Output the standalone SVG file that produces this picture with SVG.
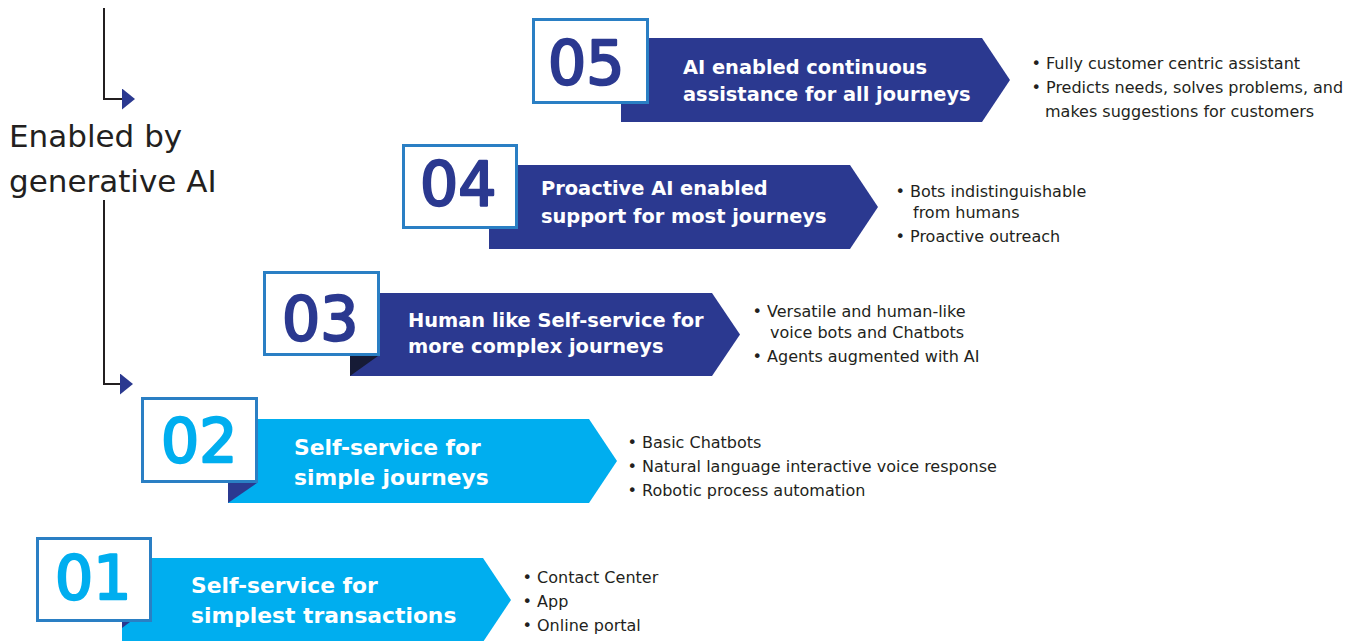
<svg xmlns="http://www.w3.org/2000/svg" width="1365" height="641" viewBox="0 0 1365 641">
  <style>
    .box { fill: #ffffff; stroke: #2a7fc4; stroke-width: 3; }
    .navy { fill: #2b3990; }
    .sky { fill: #00aeef; }
    .num { font-family: "DejaVu Sans", "Liberation Sans", sans-serif; font-size: 60px; stroke-width: 2.4; stroke-linejoin: round; }
    .num-navy { fill: #2b3990; stroke: #2b3990; }
    .num-sky { fill: #00aeef; stroke: #00aeef; }
    .title { font-family: "DejaVu Sans", "Liberation Sans", sans-serif; font-weight: bold; fill: #ffffff; }
    .t-dark { font-size: 19.4px; }
    .t-light { font-size: 21.8px; }
    .bullet { font-family: "DejaVu Sans", "Liberation Sans", sans-serif; font-size: 16px; fill: #231f20; }
    .side { font-family: "DejaVu Sans", "Liberation Sans", sans-serif; font-size: 31px; fill: #231f20; }
    .link { fill: none; stroke: #231f20; stroke-width: 2; }
  </style>
  <defs>
    <marker id="arrow" markerUnits="userSpaceOnUse" markerWidth="14" markerHeight="22" refX="0" refY="10.5" orient="auto">
      <path d="M0,0 L13,10.5 L0,21 Z" fill="#2b3990"/>
    </marker>
  </defs>

  <rect width="1365" height="641" fill="#ffffff"/>

  <!-- side label -->
  <g id="label-genai">
    <text class="side" x="9" y="147">Enabled by</text>
    <text class="side" x="9" y="192">generative AI</text>
  </g>

  <!-- elbow connectors -->
  <g id="connectors">
    <path class="link" d="M104,8 V99 H122" marker-end="url(#arrow)"/>
    <path class="link" d="M104,200 V384 H120" marker-end="url(#arrow)"/>
  </g>

  <!-- level 05 -->
  <g id="level-05">
    <polygon class="navy" points="621,38 982,38 1010,80 982,122 621,122"/>
    <rect class="box" x="533.5" y="19.5" width="114" height="83"/>
    <text class="num num-navy" x="548" y="84">05</text>
    <text class="title t-dark" x="683" y="74">AI enabled continuous</text>
    <text class="title t-dark" x="683" y="101">assistance for all journeys</text>
    <text class="bullet" x="1031.5" y="69">• Fully customer centric assistant</text>
    <text class="bullet" x="1031.5" y="93">• Predicts needs, solves problems, and</text>
    <text class="bullet" x="1045" y="117">makes suggestions for customers</text>
  </g>

  <!-- level 04 -->
  <g id="level-04">
    <polygon class="navy" points="489,165 850,165 878,207 850,249 489,249"/>
    <rect class="box" x="403.5" y="145.5" width="113" height="82"/>
    <text class="num num-navy" x="420" y="205">04</text>
    <text class="title t-dark" x="541" y="195">Proactive AI enabled</text>
    <text class="title t-dark" x="541" y="223">support for most journeys</text>
    <text class="bullet" x="895.5" y="197">• Bots indistinguishable</text>
    <text class="bullet" x="913" y="218">from humans</text>
    <text class="bullet" x="895.5" y="242">• Proactive outreach</text>
  </g>

  <!-- level 03 -->
  <g id="level-03">
    <polygon class="navy" points="350,293 712,293 740,334.5 712,376 350,376"/>
    <polygon points="350,356 378,356 350,376" fill="#161b36"/>
    <rect class="box" x="264.5" y="272.5" width="114" height="82"/>
    <text class="num num-navy" x="282" y="340">03</text>
    <text class="title t-dark" x="408" y="327">Human like Self-service for</text>
    <text class="title t-dark" x="408" y="353">more complex journeys</text>
    <text class="bullet" x="752.5" y="317">• Versatile and human-like</text>
    <text class="bullet" x="770" y="338">voice bots and Chatbots</text>
    <text class="bullet" x="752.5" y="362">• Agents augmented with AI</text>
  </g>

  <!-- level 02 -->
  <g id="level-02">
    <polygon class="sky" points="228,419 589,419 617,461 589,503 228,503"/>
    <polygon class="navy" points="228,483 257,483 228,503"/>
    <rect class="box" x="142.5" y="398.5" width="114" height="83"/>
    <text class="num num-sky" x="161" y="462">02</text>
    <text class="title t-light" x="294" y="455">Self-service for</text>
    <text class="title t-light" x="294" y="485">simple journeys</text>
    <text class="bullet" x="627.5" y="448">• Basic Chatbots</text>
    <text class="bullet" x="627.5" y="472">• Natural language interactive voice response</text>
    <text class="bullet" x="627.5" y="496">• Robotic process automation</text>
  </g>

  <!-- level 01 -->
  <g id="level-01">
    <polygon class="sky" points="122,558 483,558 511,600 483,642 122,642"/>
    <polygon class="navy" points="122,622 130,622 122,628"/>
    <rect class="box" x="37.5" y="538.5" width="113" height="82"/>
    <text class="num num-sky" x="55" y="599">01</text>
    <text class="title t-light" x="191" y="593">Self-service for</text>
    <text class="title t-light" x="191" y="623">simplest transactions</text>
    <text class="bullet" x="522.5" y="583">• Contact Center</text>
    <text class="bullet" x="522.5" y="607">• App</text>
    <text class="bullet" x="522.5" y="631">• Online portal</text>
  </g>
</svg>
